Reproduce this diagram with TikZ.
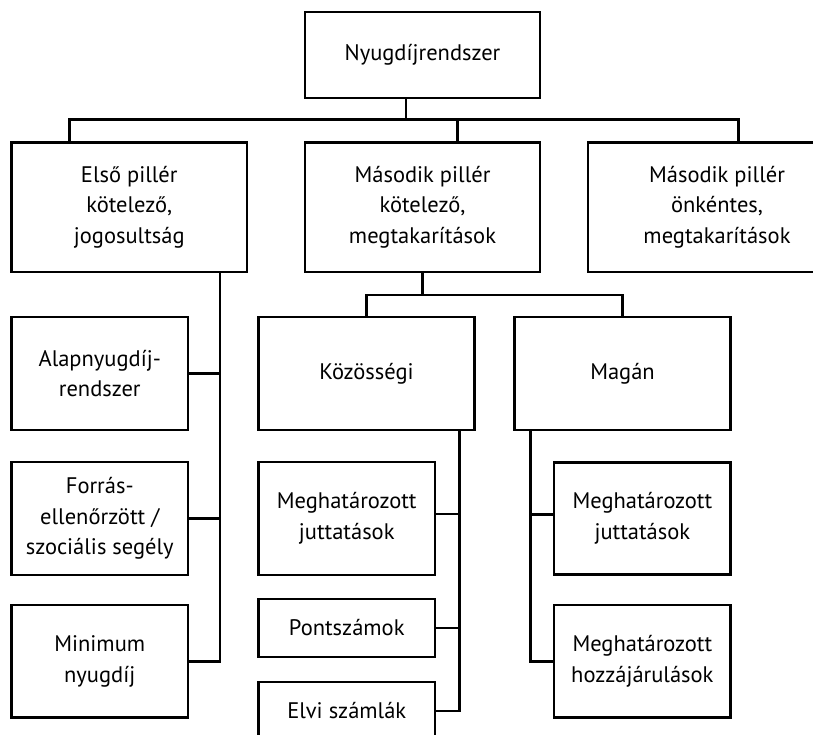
\documentclass[tikz,border=0pt]{standalone}
\usepackage{fontspec}
\setmainfont{PT Sans}
\begin{document}
\begin{tikzpicture}[x=1pt,y=-1pt,
  box/.style={draw, line width=2.6pt, inner sep=0pt, align=center,
    font=\fontsize{22.5}{30.5}\selectfont},
  conn/.style={line width=2.6pt}]
\useasboundingbox (0,0) rectangle (813,735);
\clip (0,0) rectangle (813,735);
% nodes
\node[box, minimum width=235pt, minimum height=86pt] (root) at (422.5,55) {Nyugdíjrendszer};
\node[box, minimum width=235.5pt, minimum height=129.5pt] (b1) at (129.25,207.25) {Első pillér\\kötelező,\\jogosultság};
\node[box, minimum width=235pt, minimum height=129.5pt] (b2) at (422.5,207.25) {Második pillér\\kötelező,\\megtakarítások};
\node[box, minimum width=258pt, minimum height=129.5pt] (b3) at (717,207.25) {Második pillér\\önkéntes,\\megtakarítások};
\node[box, minimum width=176.5pt, minimum height=113pt] (alap) at (99.75,373.5) {Alapnyugdíj-\\rendszer};
\node[box, minimum width=176.5pt, minimum height=113pt] (forras) at (99.75,518.5) {Forrás-\\ellenőrzött /\\szociális segély};
\node[box, minimum width=176.5pt, minimum height=112.5pt] (mini) at (99.75,661.25) {Minimum\\nyugdíj};
\node[box, minimum width=216pt, minimum height=113pt] (koz) at (366.5,373.5) {Közösségi};
\node[box, minimum width=216.4pt, minimum height=113pt] (mag) at (622.5,373.5) {Magán};
\node[box, minimum width=176.5pt, minimum height=113pt] (mj) at (346.75,518.5) {Meghatározott\\juttatások};
\node[box, minimum width=176.5pt, minimum height=58pt] (pont) at (346.75,628) {Pontszámok};
\node[box, minimum width=176.5pt, minimum height=58pt] (elvi) at (346.75,711) {Elvi számlák};
\node[box, minimum width=176.7pt, minimum height=112pt] (mj2) at (642.35,518.25) {Meghatározott\\juttatások};
\node[box, minimum width=176.7pt, minimum height=112.5pt] (mh) at (642.35,661.25) {Meghatározott\\hozzájárulások};
% junction coordinates
\coordinate (bus) at (0,119.5);
\coordinate (bus2) at (0,295);
\coordinate (r0) at ([xshift=-16.5pt]root.south);
\coordinate (t1) at ([xshift=59.5pt]b1.north west);
\coordinate (t2) at ([xshift=154pt]b2.north west);
\coordinate (t3) at ([xshift=152pt]b3.north west);
\coordinate (s1) at ([xshift=-28.5pt]b1.south east);
\coordinate (s2) at ([xshift=-16.5pt]koz.south east);
\coordinate (s3) at ([xshift=17.2pt]mag.south west);
% top level
\draw[conn] (r0) -- (r0 |- bus);
\draw[conn] (t1) |- (bus -| t3) -- (t3);
\draw[conn] (t2) -- (t2 |- bus);
% second pillar split
\draw[conn] (b2.south) -- (b2.south |- bus2);
\draw[conn] (koz.north) |- (bus2 -| mag.north) -- (mag.north);
% first pillar column
\draw[conn] (s1) |- (mini.east);
\draw[conn] (alap.east) -- (alap.east -| s1);
\draw[conn] (forras.east) -- (forras.east -| s1);
% Közösségi column
\draw[conn] (s2) |- (elvi.east);
\draw[conn] ([yshift=4.5pt]mj.east) -- ([yshift=4.5pt]mj.east -| s2);
\draw[conn] (pont.east) -- (pont.east -| s2);
% Magán column
\draw[conn] (s3) |- (mh.west);
\draw[conn] ([yshift=4pt]mj2.west) -- ([yshift=4pt]mj2.west -| s3);
\end{tikzpicture}
\end{document}
